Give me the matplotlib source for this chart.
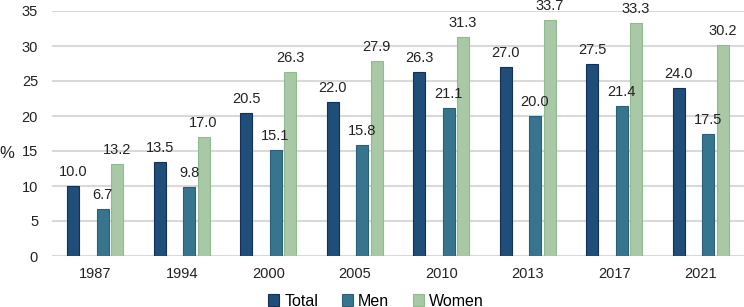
import numpy as np
import matplotlib.pyplot as plt

plt.rcParams['font.family'] = ['Liberation Sans', 'DejaVu Sans']

years = ['1987', '1994', '2000', '2005', '2010', '2013', '2017', '2021']
total = [10.0, 13.5, 20.5, 22.0, 26.3, 27.0, 27.5, 24.0]
men = [6.7, 9.8, 15.1, 15.8, 21.1, 20.0, 21.4, 17.5]
women = [13.2, 17.0, 26.3, 27.9, 31.3, 33.7, 33.3, 30.2]

series = [('Total', total, '#1F4E79', '#14305A', -1.5),
          ('Men', men, '#37758F', '#2A5F78', 0.5),
          ('Women', women, '#A9C8A6', '#93B990', 1.5)]

fig = plt.figure(figsize=(7.44, 3.07), dpi=100)
ax = fig.add_axes([52/744, 51/307, 692/744, 245/307])

x = np.arange(len(years))
step = 0.168
width = 0.139
for name, vals, col, edge, pos in series:
    bars = ax.bar(x + pos*step, vals, width, color=col, edgecolor=edge,
                  linewidth=0.8, label=name, zorder=3)
    for b, v in zip(bars, vals):
        ax.annotate('%.1f' % v, (b.get_x() + b.get_width()/2, v),
                    xytext=(0, 5), textcoords='offset points',
                    ha='center', va='bottom', fontsize=10.5, color='#222222',
                    zorder=6)

ax.set_xlim(-0.5, len(years) - 0.5)
ax.set_ylim(0, 35)
ax.set_yticks(range(0, 36, 5))
ax.set_xticks(x)
ax.set_xticklabels(years)
ax.tick_params(length=0, labelsize=10.5, colors='#222222')
ax.tick_params(axis='x', pad=8)
ax.tick_params(axis='y', pad=10)
ax.grid(axis='y', color='#D9D9D9', linewidth=1.5, zorder=0)
for s in ax.spines.values():
    s.set_visible(False)
ax.set_ylabel('%', rotation=0, fontsize=12, color='#222222', va='center', ha='center')
ax.yaxis.set_label_coords(-0.065, 0.42)

fig.legend(loc='center', bbox_to_anchor=(376/744, 6/307), ncol=3, frameon=False,
           fontsize=11.5, handlelength=0.7, handleheight=0.7, handletextpad=0.3,
           columnspacing=1.5, borderpad=0)

fig.savefig('out.png', dpi=100)
